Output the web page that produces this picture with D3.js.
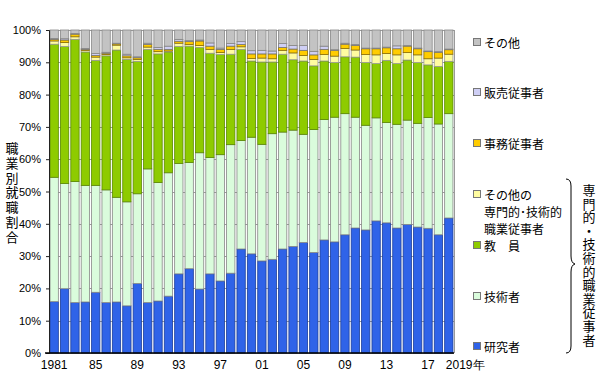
<!DOCTYPE html>
<html>
<head>
<meta charset="utf-8">
<script src="https://cdn.jsdelivr.net/npm/d3@7"></script>
<style>
  body { margin: 0; background: #fff; }
  svg { display: block; font-family: "Liberation Sans", "Noto Sans CJK JP", sans-serif; }
</style>
</head>
<body>
<div id="chart"></div>
<script>
// 職業別就職割合 (%), 1981-2019
const years = [1981, 1982, 1983, 1984, 1985, 1986, 1987, 1988, 1989, 1990,
  1991, 1992, 1993, 1994, 1995, 1996, 1997, 1998, 1999, 2000,
  2001, 2002, 2003, 2004, 2005, 2006, 2007, 2008, 2009, 2010,
  2011, 2012, 2013, 2014, 2015, 2016, 2017, 2018, 2019];

const researchers = [15.9, 19.9, 15.6, 15.8, 18.8, 15.6, 15.8, 14.6, 21.5, 15.6,
  16.1, 17.6, 24.5, 26.1, 19.8, 24.5, 22.3, 24.7, 32.2, 30.7,
  28.5, 29.0, 32.2, 33.0, 34.2, 31.1, 35.0, 34.4, 36.6, 38.7,
  38.1, 40.9, 40.3, 38.7, 39.8, 39.0, 38.6, 36.6, 41.8];
const engineers = [38.5, 32.6, 37.5, 36.1, 33.1, 34.9, 32.4, 32.2, 27.8, 41.4,
  36.7, 38.2, 34.2, 32.9, 42.2, 36.0, 39.1, 39.8, 33.6, 36.1,
  36.1, 38.9, 36.2, 36.0, 33.5, 38.1, 37.3, 38.6, 37.5, 34.3,
  32.4, 31.9, 31.1, 32.1, 32.3, 32.1, 34.3, 34.3, 32.3];
const teachers = [41.2, 42.4, 44.0, 41.3, 38.7, 41.5, 45.6, 44.1, 41.0, 37.0,
  39.8, 37.4, 36.2, 36.0, 32.6, 32.3, 31.0, 28.0, 28.2, 23.6,
  25.5, 22.2, 24.1, 21.8, 22.7, 19.7, 18.1, 16.9, 17.6, 18.6,
  19.4, 16.8, 19.2, 18.8, 18.6, 18.8, 16.3, 17.8, 16.2];
const otherProf = [1.0, 1.2, 0.8, 0.5, 1.0, 0.4, 1.5, 0.5, 0.6, 0.7,
  0.7, 0.3, 1.0, 0.5, 0.6, 1.2, 0.6, 1.5, 0.8, 0.8,
  1.2, 1.0, 1.2, 2.1, 1.7, 2.0, 2.0, 2.0, 2.6, 2.2,
  2.5, 2.7, 2.1, 2.7, 2.3, 2.4, 1.9, 2.6, 2.2];
const clerical = [0.5, 0.8, 0.8, 0.3, 0.5, 0.4, 0.4, 0.6, 0.5, 0.8,
  0.7, 0.5, 0.6, 0.9, 1.4, 1.0, 1.0, 1.0, 0.7, 1.4,
  1.3, 1.5, 0.9, 1.2, 1.6, 1.4, 1.6, 1.8, 1.3, 1.4,
  1.8, 1.9, 1.8, 1.9, 2.0, 1.9, 2.2, 1.8, 1.4];
const sales = [0.3, 0.4, 0.2, 0.3, 0.6, 0.3, 0.2, 0.5, 0.3, 0.4,
  0.6, 1.0, 0.6, 0.3, 0.3, 1.0, 0.4, 0.8, 0.9, 1.0,
  1.1, 0.9, 1.2, 1.1, 1.5, 1.1, 1.0, 0.2, 0.3, 0.3,
  0.2, 0.2, 0.2, 0.9, 0.2, 0.2, 0.2, 0.2, 0.2];
const others = [2.6, 2.7, 1.1, 5.7, 7.3, 6.9, 4.1, 7.5, 8.3, 4.1,
  5.4, 5.0, 2.9, 3.3, 3.1, 4.0, 5.6, 4.2, 3.6, 6.4,
  6.3, 6.5, 4.2, 4.8, 4.8, 6.6, 5.0, 6.1, 4.1, 4.5,
  5.6, 5.6, 5.3, 4.9, 4.8, 5.6, 6.5, 6.7, 5.9];

const yTicks = [0, 10, 20, 30, 40, 50, 60, 70, 80, 90, 100];
const xTickYears = [1981, 1985, 1989, 1993, 1997, 2001, 2005, 2009, 2013, 2017, 2019];
const xTickLabels = ['1981', '85', '89', '93', '97', '01', '05', '09', '13', '17', '2019年'];

const seriesKeys = ['researchers', 'engineers', 'teachers', 'otherProf', 'clerical', 'sales', 'others'];
const seriesNames = ['研究者', '技術者', '教　員', 'その他の\n専門的･技術的\n職業従事者', '事務従事者', '販売従事者', 'その他'];
const seriesColors = ['#2f63e8', '#dafcdc', '#8ecb00', '#fffca0', '#ffcc00', '#cfcff5', '#c3c3c3'];
const seriesStroke = ['#1d3f9a', '#888', '#5a8a00', '#999', '#8a6d00', '#777', '#888'];
const legendY = [347, 297, 246, 195, 144, 93, 43];

const bracketLabel = '専門的・技術的職業従事者';

const width = 600, height = 388;
const margin = { top: 30, right: 146, bottom: 35, left: 49 };
const innerW = width - margin.left - margin.right;
const innerH = height - margin.top - margin.bottom;

const rows = years.map((y, i) => ({
  year: y,
  researchers: researchers[i], engineers: engineers[i], teachers: teachers[i],
  otherProf: otherProf[i], clerical: clerical[i], sales: sales[i], others: others[i]
}));

const svg = d3.select('#chart').append('svg')
  .attr('width', width).attr('height', height);
const g = svg.append('g')
  .attr('transform', 'translate(' + margin.left + ',' + margin.top + ')');

const scaleX = d3.scaleBand()
  .domain(years)
  .range([0, innerW])
  .paddingInner(0.2)
  .paddingOuter(0.1);
const scaleY = d3.scaleLinear()
  .domain([0, 100])
  .range([innerH, 0]);

// grid + frame
g.append('g')
  .call(d3.axisLeft(scaleY).tickValues(yTicks).tickSize(-innerW).tickFormat(''))
  .call(a => a.select('.domain').remove())
  .call(a => a.selectAll('line').attr('stroke', '#9a9a9a').attr('shape-rendering', 'crispEdges'));
g.append('line')
  .attr('x1', innerW).attr('x2', innerW).attr('y1', 0).attr('y2', innerH)
  .attr('stroke', '#9a9a9a').attr('shape-rendering', 'crispEdges');

const stacked = d3.stack().keys(seriesKeys)(rows);

g.selectAll('.series')
  .data(stacked)
  .enter().append('g')
  .attr('fill', (d, i) => seriesColors[i])
  .attr('stroke', (d, i) => seriesStroke[i])
  .attr('stroke-width', 0.8)
  .selectAll('rect')
  .data(d => d)
  .enter().append('rect')
  .attr('x', d => scaleX(d.data.year))
  .attr('width', scaleX.bandwidth())
  .attr('y', d => scaleY(d[1]))
  .attr('height', d => scaleY(d[0]) - scaleY(d[1]));

// y axis
g.append('g')
  .call(d3.axisLeft(scaleY).tickValues(yTicks).tickSize(3).tickFormat(d => d + '%'))
  .call(a => a.select('.domain').attr('stroke', '#222'))
  .call(a => a.selectAll('.tick line').attr('stroke', '#222'))
  .call(a => a.selectAll('text').attr('font-size', 11).attr('fill', '#000').attr('x', -8));

// x axis
g.append('g')
  .attr('transform', 'translate(0,' + innerH + ')')
  .call(d3.axisBottom(scaleX).tickValues(xTickYears).tickSize(0)
    .tickFormat(d => xTickLabels[xTickYears.indexOf(d)]))
  .call(a => a.select('.domain').attr('stroke', '#000').attr('stroke-width', 1.5).attr('d', 'M-4,0H' + innerW))
  .call(a => a.selectAll('text').attr('font-size', 12).attr('fill', '#000').attr('dy', '1.05em'))
  .call(a => a.select('.tick:last-of-type text').attr('text-anchor', 'start').attr('dx', -3));

// y title, vertical
svg.append('g')
  .selectAll('text')
  .data(Array.from('職業別就職割合'))
  .enter().append('text')
  .attr('x', 12)
  .attr('y', (d, i) => 153 + i * 14.8)
  .attr('text-anchor', 'middle')
  .attr('font-size', 13)
  .text(d => d);

// legend
const legend = svg.append('g').attr('transform', 'translate(473,0)');
seriesKeys.forEach((k, i) => {
  const lines = seriesNames[i].split('\n');
  const item = legend.append('g').attr('transform', 'translate(0,' + legendY[i] + ')');
  item.append('rect')
    .attr('x', 0.5).attr('y', -4.5).attr('width', 7).attr('height', 7)
    .attr('fill', seriesColors[i]).attr('stroke', '#777');
  item.selectAll('text')
    .data(lines)
    .enter().append('text')
    .attr('x', 11)
    .attr('y', (d, j) => j * 17 + 4.5)
    .attr('font-size', 12)
    .text(d => d);
});

// bracket for 専門的・技術的職業従事者
svg.append('path')
  .attr('d', 'M566,179 Q571,179 571,186 L571,256 Q571,263 575,264 Q571,265 571,272 L571,346 Q571,353 566,353')
  .attr('fill', 'none')
  .attr('stroke', '#000')
  .attr('stroke-width', 1);

svg.append('g')
  .selectAll('text')
  .data(Array.from(bracketLabel))
  .enter().append('text')
  .attr('x', 589)
  .attr('y', (d, i) => 195 + i * 13.6)
  .attr('text-anchor', 'middle')
  .attr('font-size', 13)
  .text(d => d);
</script>
</body>
</html>
